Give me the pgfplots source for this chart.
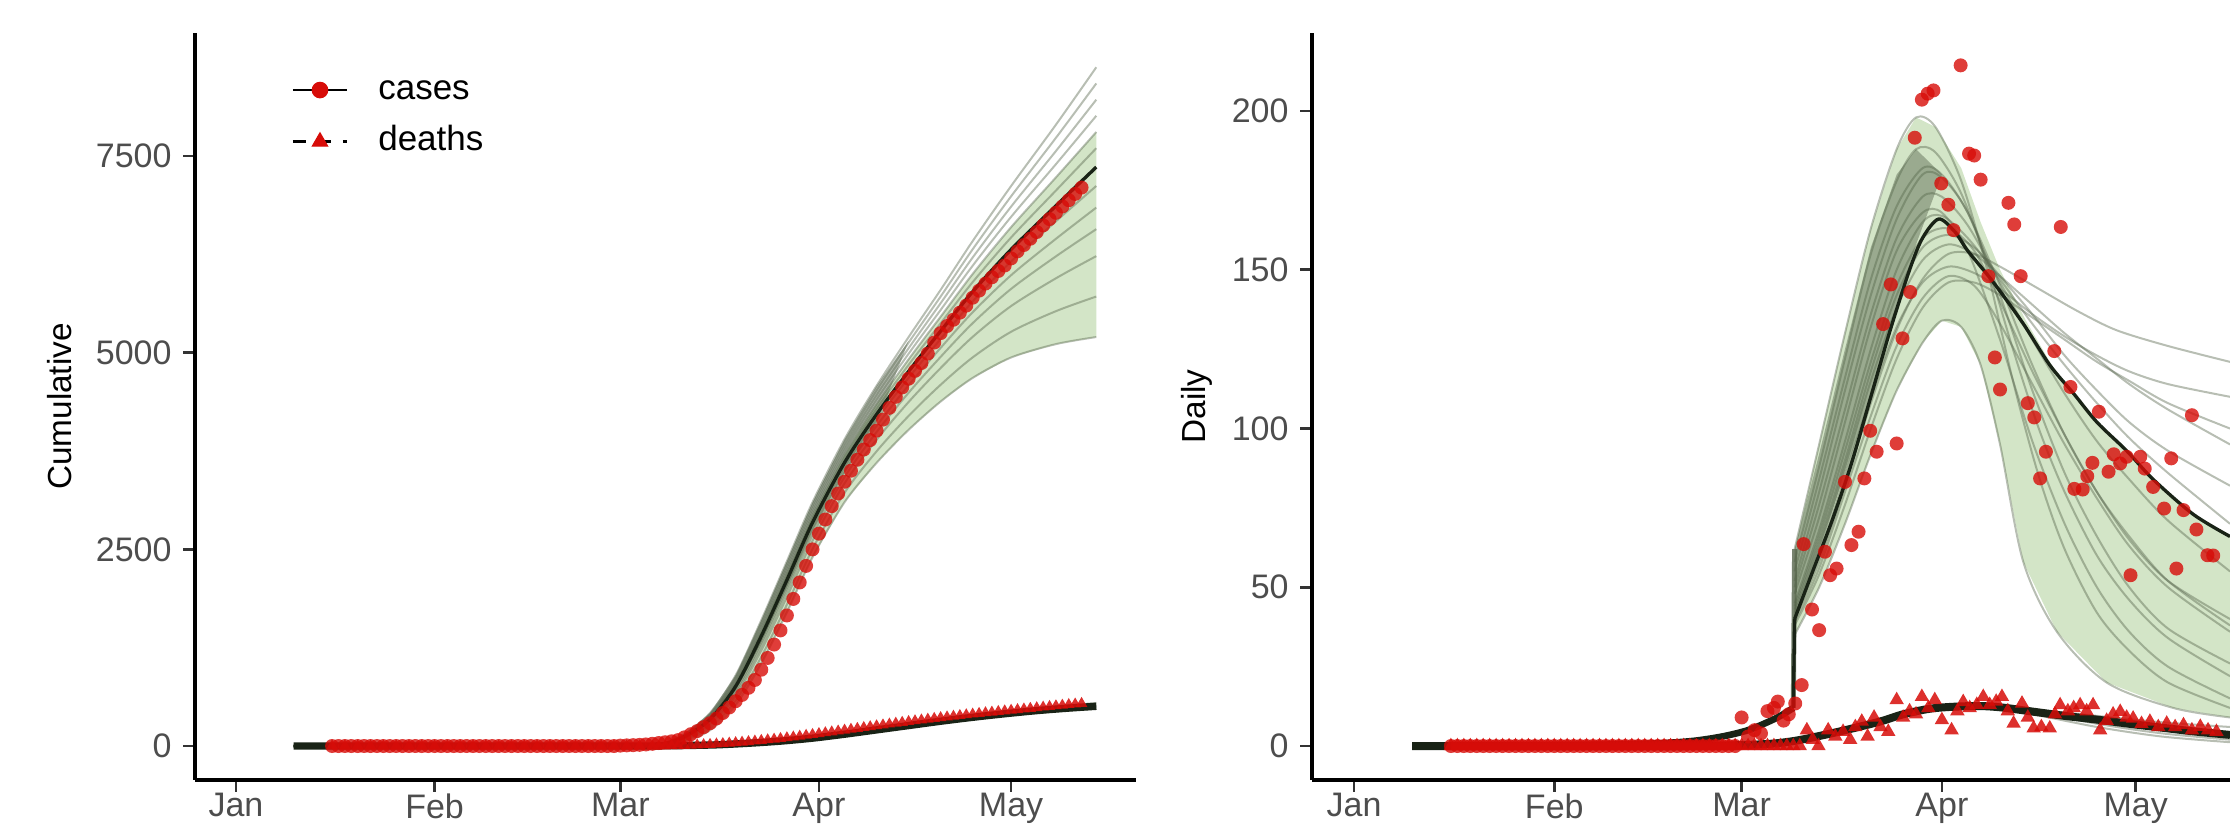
\documentclass[border=0pt]{standalone}
\usepackage{fontspec}
\setmainfont{Liberation Sans}
\usepackage{pgfplots}
\pgfplotsset{compat=1.18}

\definecolor{ensc}{RGB}{85,100,75}
\definecolor{greenfill}{RGB}{200,222,185}
\definecolor{medc}{RGB}{25,35,22}
\definecolor{ptred}{RGB}{215,12,8}
\definecolor{tickgray}{RGB}{77,77,77}

\pgfplotsset{
  panel/.style={
    scale only axis, height=224.1pt,
    axis lines*=left,
    axis line style={line width=1pt, black},
    tick align=outside, major tick length=3.5pt,
    tick style={line width=0.8pt, black!80},
    xtick={0,31,60,91,121}, xticklabels={Jan,Feb,Mar,Apr,May},
    ticklabel style={font=\fontsize{10.2}{12}\selectfont, text=tickgray},
    xticklabel style={yshift=3pt},
    label style={font=\fontsize{10}{12}\selectfont},
  },
  ens/.style={smooth, no markers, draw=ensc, draw opacity=0.42, line width=0.6pt},
  med/.style={smooth, no markers, draw=medc, line width=1pt},
  band/.style={draw=none, fill=greenfill, fill opacity=0.8, no markers},
  core/.style={draw=none, fill=ensc, fill opacity=0.45, no markers},
  dots/.style={only marks, mark=*, color=ptred, mark size=2.1pt, mark options={fill opacity=0.8, draw opacity=0}},
  tris/.style={only marks, mark=triangle*, color=ptred, mark size=2.5pt, mark options={fill opacity=0.85, draw opacity=0}},
}

\begin{document}
\begin{tikzpicture}
\path[use as bounding box] (0,0) rectangle (669pt,248.4pt);

% ---------------- cumulative ----------------
\begin{axis}[panel, at={(58.5pt,14.4pt)}, anchor=south west, width=282.3pt,
  xmin=-6.4, xmax=140.5, ymin=-432, ymax=9066,
  ytick={0,2500,5000,7500}, yticklabels={0,2500,5000,7500},
  ylabel={Cumulative},
  ylabel style={at={(axis description cs:-0.1435,0.5)}, anchor=center},
  legend style={at={(axis description cs:0.102,0.889)}, anchor=west,
    draw=none, fill=none, inner sep=0pt, row sep=6pt, column sep=9pt,
    font=\fontsize{10.5}{12}\selectfont,
    nodes={inner sep=0pt, text height=7.5pt, text depth=2pt}},
  legend cell align=left]

\addlegendimage{legend image code/.code={
  \draw[black, line width=0.8pt] (0pt,0pt) -- (16.2pt,0pt);
  \fill[ptred] (8.1pt,0pt) circle (2.3pt);}}
\addlegendimage{legend image code/.code={
  \draw[black, line width=0.8pt, dash pattern=on 4pt off 3.5pt] (0pt,0pt) -- (16.2pt,0pt);
  \fill[ptred] (8.1pt,2.6pt) -- (5.85pt,-1.3pt) -- (10.35pt,-1.3pt) -- cycle;}}

% green band (inner part of the ensemble)
\addplot[band] coordinates {(64,3) (67,34) (70,128) (74,367) (78,809) (82,1468) (86,2194) (90,2932) (95,3708) (100,4345) (105,4917) (110,5459) (115,6002) (121,6597) (128,7230) (134.3,7807)
 (134.3,5200) (128,5110) (121,4940) (115,4680) (110,4380) (105,4020) (100,3600) (95,3100) (90,2400) (86,1700) (82,1050) (78,520) (74,200) (70,60) (67,15) (64,3)} -- cycle;
% dense core during the rise
\addplot[core] coordinates {(66,20) (70,150) (74,420) (78,900) (82,1600) (86,2350) (90,3100) (95,3900) (100,4580) (105,5150)
 (100,4100) (95,3480) (90,2736) (86,2012) (82,1314) (78,702) (74,306) (70,103) (66,20)} -- cycle;
% deaths band
\addplot[draw=none, fill=ensc, fill opacity=0.45, no markers] coordinates {(60,0) (70,9) (80,45) (90,120) (100,235) (110,350) (120,450) (130,530) (134.3,560)
 (134.3,462) (130,440) (120,375) (110,285) (100,180) (90,85) (80,28) (70,4) (60,0)} -- cycle;

% ensemble of fitted trajectories
\addplot[ens] coordinates {(9,0) (60,0) (64,3) (67,15) (70,60) (74,200) (78,520) (82,1050) (86,1700) (90,2400) (95,3100) (100,3600) (105,4020) (110,4380) (115,4680) (121,4940) (128,5110) (134.3,5200)};
\addplot[ens] coordinates {(9,0) (60,0) (64,4) (67,19) (70,74) (74,233) (78,577) (82,1133) (86,1798) (90,2505) (95,3220) (100,3747) (105,4197) (110,4593) (115,4941) (121,5267) (128,5529) (134.3,5715)};
\addplot[ens] coordinates {(9,0) (60,0) (64,5) (67,23) (70,87) (74,266) (78,634) (82,1215) (86,1895) (90,2610) (95,3340) (100,3894) (105,4374) (110,4806) (115,5202) (121,5594) (128,5947) (134.3,6229)};
\addplot[ens] coordinates {(9,0) (60,0) (64,5) (67,25) (70,96) (74,288) (78,672) (82,1270) (86,1960) (90,2680) (95,3420) (100,3992) (105,4492) (110,4948) (115,5376) (121,5812) (128,6226) (134.3,6572)};
\addplot[ens] coordinates {(9,0) (60,0) (64,5) (67,27) (70,103) (74,306) (78,702) (82,1314) (86,2012) (90,2736) (95,3484) (100,4070) (105,4586) (110,5062) (115,5515) (121,5986) (128,6449) (134.3,6846)};
\addplot[ens] coordinates {(9,0) (60,0) (64,6) (67,29) (70,110) (74,323) (78,733) (82,1358) (86,2064) (90,2792) (95,3548) (100,4149) (105,4681) (110,5175) (115,5654) (121,6161) (128,6672) (134.3,7121)};
\addplot[ens] coordinates {(9,0) (60,0) (64,7) (67,33) (70,123) (74,354) (78,786) (82,1435) (86,2155) (90,2890) (95,3660) (100,4286) (105,4846) (110,5374) (115,5898) (121,6466) (128,7063) (134.3,7601)};
\addplot[ens] coordinates {(9,0) (60,0) (64,7) (67,34) (70,128) (74,367) (78,809) (82,1468) (86,2194) (90,2932) (95,3708) (100,4345) (105,4917) (110,5459) (115,6002) (121,6597) (128,7230) (134.3,7807)};
\addplot[ens] coordinates {(9,0) (60,0) (64,7) (67,36) (70,134) (74,380) (78,832) (82,1501) (86,2233) (90,2974) (95,3756) (100,4404) (105,4988) (110,5544) (115,6107) (121,6728) (128,7398) (134.3,8013)};
\addplot[ens] coordinates {(9,0) (60,0) (64,7) (67,37) (70,139) (74,394) (78,854) (82,1534) (86,2272) (90,3016) (95,3804) (100,4462) (105,5058) (110,5630) (115,6211) (121,6858) (128,7565) (134.3,8218)};
\addplot[ens] coordinates {(9,0) (60,0) (64,8) (67,39) (70,145) (74,407) (78,877) (82,1567) (86,2311) (90,3058) (95,3852) (100,4521) (105,5129) (110,5715) (115,6316) (121,6989) (128,7733) (134.3,8424)};
\addplot[ens] coordinates {(9,0) (60,0) (64,8) (67,40) (70,150) (74,420) (78,900) (82,1600) (86,2350) (90,3100) (95,3900) (100,4580) (105,5200) (110,5800) (115,6420) (121,7120) (128,7900) (134.3,8630)};

% medians
\addplot[med] coordinates {(9,0) (60,0) (64,6) (67,31) (70,117) (74,339) (78,759) (82,1397) (86,2110) (90,2841) (95,3604) (100,4217) (105,4763) (110,5275) (115,5776) (121,6313) (128,6868) (134.3,7361)};
\addplot[med, line width=2.2pt] coordinates {(9,0) (60,0) (66,2) (70,6) (75,15) (80,35) (85,62) (90,100) (95,150) (100,205) (105,260) (110,315) (115,365) (120,410) (125,450) (130,482) (134.3,505)};

% observed cumulative cases
\addplot[dots] coordinates {
(15,0) (16,0) (17,0) (18,0) (19,0) (20,0) (21,0) (22,0) (23,0) (24,0) (25,0) (26,0) (27,0) (28,0) (29,0)
(30,0) (31,0) (32,0) (33,0) (34,0) (35,0) (36,0) (37,0) (38,0) (39,0) (40,0) (41,0) (42,0) (43,0) (44,0)
(45,0) (46,0) (47,0) (48,0) (49,0) (50,0) (51,0) (52,0) (53,0) (54,0) (55,0) (56,0) (57,0) (58,0) (59,0)
(60,5) (61,8) (62,11) (63,15) (64,20) (65,28) (66,38) (67,48) (68,60) (69,75) (70,110) (71,150) (72,190)
(73,240) (74,290) (75,350) (76,420) (77,490) (78,570) (79,650) (80,740) (81,840) (82,970) (83,1120)
(84,1290) (85,1470) (86,1660) (87,1870) (88,2080) (89,2290) (90,2500) (91,2700) (92,2880) (93,3050)
(94,3210) (95,3360) (96,3500) (97,3640) (98,3770) (99,3890) (100,4010) (101,4150) (102,4300) (103,4440)
(104,4560) (105,4670) (106,4770) (107,4870) (108,4990) (109,5130) (110,5250) (111,5340) (112,5420)
(113,5510) (114,5600) (115,5700) (116,5790) (117,5880) (118,5960) (119,6040) (120,6110) (121,6200)
(122,6290) (123,6370) (124,6450) (125,6535) (126,6620) (127,6700) (128,6780) (129,6860) (130,6940)
(131,7020) (132,7100)};
% observed cumulative deaths
\addplot[tris, mark size=2pt] coordinates {
(15,0) (17,0) (19,0) (21,0) (23,0) (25,0) (27,0) (29,0) (31,0) (33,0) (35,0) (37,0) (39,0) (41,0) (43,0)
(45,0) (47,0) (49,0) (51,0) (53,0) (55,0) (57,0) (59,0) (61,0) (63,0) (65,0) (66,0) (67,0)
(68,2) (69,4) (70,6) (71,9) (72,12) (73,16) (74,20) (75,25) (76,30) (77,36) (78,42) (79,48) (80,55)
(81,62) (82,70) (83,78) (84,86) (85,95) (86,104) (87,114) (88,124) (89,135) (90,146) (91,157) (92,168)
(93,179) (94,190) (95,201) (96,212) (97,223) (98,234) (99,245) (100,256) (101,267) (102,278) (103,289)
(104,300) (105,310) (106,320) (107,330) (108,340) (109,350) (110,360) (111,369) (112,378) (113,387)
(114,396) (115,405) (116,414) (117,422) (118,430) (119,438) (120,446) (121,454) (122,462) (123,470)
(124,478) (125,486) (126,494) (127,502) (128,510) (129,518) (130,526) (131,533) (132,540)};

\legend{cases,deaths}
\end{axis}

% ---------------- daily ----------------
\begin{axis}[panel, at={(393.6pt,14.4pt)}, anchor=south west, width=275.4pt,
  xmin=-6.5, xmax=135.6, ymin=-10.7, ymax=224.6,
  ytick={0,50,100,150,200}, yticklabels={0,50,100,150,200},
  ylabel={Daily},
  ylabel style={at={(axis description cs:-0.1253,0.5)}, anchor=center}]

% green band of the trajectories
\addplot[band] coordinates {(68.2,62) (72,95) (76,130) (80,163) (84,188) (87,198) (90,195) (94,182) (97,165) (100,150) (104,134) (108,120) (111.4,111) (115,102) (119.6,93) (123.7,84) (129.9,73) (135.6,66)
 (135.6,9) (126.8,12) (116.5,20) (108.8,36) (103.6,58) (100,95) (97,120) (94,132) (91,134) (88,127) (84,112) (80,92) (76,70) (72,50) (68.2,35)} -- cycle;
% dense core during the rise
\addplot[core] coordinates {(68.2,62) (72,92) (76,125) (80,157) (84,180) (87,188) (91,180)
 (87,158) (84,138) (80,110) (76,86) (72,62) (68.2,40)} -- cycle;

% trajectories
\addplot[medc, line width=2pt, smooth, no markers] coordinates {(9,0) (30,0.2) (45,0.7) (52,1.5) (57,3) (61,5) (64,7.5) (66,9.5) (68,12)};
\addplot[ensc, line width=1.5pt, opacity=0.8, no markers] coordinates {(68,12) (68.2,62)};
\addplot[ens] coordinates {(68.2,62) (72,95) (76,130) (80,163) (84,188) (87,198) (90,195) (94,178) (98,150) (102,115) (106,85) (110,62) (115,42) (120,30) (126,20) (135.6,12)};
\addplot[ens] coordinates {(68.2,58) (72,88) (76,122) (80,155) (84,178) (87,188) (90,187) (94,174) (98,152) (102,125) (106,100) (110,80) (115,60) (120,46) (126,34) (135.6,22)};
\addplot[ens] coordinates {(68.2,55) (72,84) (76,116) (80,147) (84,170) (88,182) (91,180) (95,168) (100,145) (105,120) (110,98) (115,80) (120,66) (126,52) (135.6,38)};
\addplot[ens] coordinates {(68.2,52) (72,80) (76,112) (80,142) (84,166) (88,180) (91,179) (95,168) (100,142) (105,112) (110,86) (115,66) (120,50) (126,37) (135.6,26)};
\addplot[ens] coordinates {(68.2,50) (72,76) (76,106) (80,136) (84,160) (88,173) (91,173) (95,164) (100,146) (105,128) (110,111) (115,96) (120,84) (126,71) (135.6,55)};
\addplot[ens] coordinates {(68.2,48) (72,72) (76,102) (80,132) (84,156) (88,168) (91,168) (95,156) (100,128) (105,96) (110,70) (115,50) (120,36) (126,25) (135.6,15)};
\addplot[ens] coordinates {(68.2,45) (72,68) (76,96) (80,125) (84,150) (88,165) (91,167) (95,160) (100,147) (105,133) (110,120) (115,108) (120,97) (126,86) (135.6,70)};
\addplot[ens] coordinates {(68.2,44) (72,66) (76,93) (80,121) (84,145) (88,160) (92,163) (96,156) (100,140) (105,118) (110,98) (115,80) (120,65) (126,52) (135.6,40)};
\addplot[ens] coordinates {(68.2,43) (72,64) (76,90) (80,118) (84,142) (88,157) (92,161) (96,157) (100,148) (105,136) (110,123) (115,112) (120,102) (126,93) (135.6,82)};
\addplot[ens] coordinates {(68.2,42) (72,62) (76,88) (80,115) (84,138) (88,153) (92,158) (96,155) (100,148) (105,139) (110,130) (115,122) (120,114) (126,106) (135.6,95)};
\addplot[ens] coordinates {(68.2,41) (72,60) (76,85) (80,110) (84,132) (88,146) (92,151) (96,149) (100,144) (105,136) (110,129) (115,123) (120,118) (126,114) (135.6,110)};
\addplot[ens] coordinates {(68.2,40) (72,58) (76,82) (80,108) (84,131) (88,147) (92,155) (96,155) (100,151) (106,144) (112,137) (118,131) (126,126) (135.6,121)};
\addplot[ens] coordinates {(68.2,39) (72,56) (76,80) (80,104) (84,126) (88,141) (92,148) (96,145) (100,133) (105,114) (110,95) (115,78) (120,63) (126,50) (135.6,36)};
\addplot[ens] coordinates {(68.2,38) (72,54) (76,76) (80,100) (84,122) (88,138) (92,146) (96,146) (100,142) (105,135) (110,128) (115,121) (120,115) (126,108) (135.6,100)};
\addplot[ens] coordinates {(68.2,35) (72,50) (76,70) (80,92) (84,112) (88,127) (91,134) (94,132) (97,120) (100,95) (103.6,58) (108.8,36) (116.5,20) (126.8,12) (135.6,9)};
% deaths trajectories
\addplot[ens] coordinates {(60,0.3) (70,2.5) (80,7.5) (90,12.5) (96,13) (105,11) (115,7) (125,4) (135.6,2)};
\addplot[ens] coordinates {(60,0.3) (70,2) (80,7) (90,11.5) (96,12.5) (105,11.5) (115,9.5) (125,7.5) (135.6,6)};
\addplot[ens] coordinates {(60,0.3) (70,2.2) (80,7.3) (90,12) (96,12.8) (105,10) (115,6) (125,3) (135.6,1.2)};

% medians
\addplot[medc, line width=1pt, no markers] coordinates {(68,12) (68.2,40)};
\addplot[med] coordinates {(68.2,40) (71,55) (74,71) (77,89) (80,110) (83,131) (86,150) (88,160) (90.5,166) (93,162) (95,156) (99,146) (103.6,133) (107.7,120) (111.4,111) (115,102) (119.6,93) (123.7,84) (129.9,73) (135.6,66)};
\addplot[med, line width=2.4pt] coordinates {(9,0) (50,0) (60,0.3) (65,0.8) (69,1.9) (75,4.5) (81.4,7.7) (85,10) (89.7,11.9) (95.9,12.6) (100,12.2) (105.2,10.8) (110,9.5) (115.5,8.2) (120,7) (125.8,5.6) (130,4.6) (135.6,3.5)};

% observed daily cases
\addplot[dots] coordinates {
(15,0) (16,0) (17,0) (18,0) (19,0) (20,0) (21,0) (22,0) (23,0) (24,0) (25,0) (26,0) (27,0) (28,0) (29,0)
(30,0) (31,0) (32,0) (33,0) (34,0) (35,0) (36,0) (37,0) (38,0) (39,0) (40,0) (41,0) (42,0) (43,0) (44,0)
(45,0) (46,0) (47,0) (48,0) (49,0) (50,0) (51,0) (52,0) (53,0) (54,0) (55,0) (56,0) (57,0) (58,0) (59,0)
(60,9) (61,3) (62,5) (63,4) (64,11) (65,12) (65.6,14) (66.5,8) (67.3,10) (68.3,13.4) (69.3,19.2)
(69.6,63.6) (70.9,43) (72.0,36.5) (72.9,61.2) (73.7,53.8) (74.7,55.9) (76.0,83.2) (77.0,63.3) (78.1,67.5)
(79.0,84.3) (79.9,99.3) (80.9,92.7) (81.9,132.9) (83.1,145.4) (84.0,95.3) (84.9,128.4) (86.1,143)
(86.8,191.6) (87.9,203.6) (88.8,205.5) (89.7,206.5) (90.9,177.2) (92.0,170.5) (92.8,162.5) (93.9,214.4)
(95.2,186.6) (96.0,186) (97.0,178.4) (98.2,148) (99.2,122.4) (100.0,112.3) (101.3,171.1) (102.2,164.3)
(103.2,148) (104.3,108) (105.3,103.5) (106.2,84.3) (107.1,92.7) (108.4,124.4) (109.4,163.5) (110.9,113.1)
(111.5,81) (112.8,80.8) (113.5,85) (114.3,89.2) (115.3,105.3) (116.8,86.4) (117.6,91.9) (118.6,89)
(119.6,91.1) (120.2,53.8) (121.7,91.1) (122.4,87.4) (123.7,81.6) (125.4,74.8) (126.5,90.6) (127.3,55.9)
(128.4,74.3) (129.7,104.2) (130.4,68.2) (132.1,60.1) (133.0,60)};
% observed daily deaths
\addplot[tris] coordinates {
(15,0) (16,0) (17,0) (18,0) (19,0) (20,0) (21,0) (22,0) (23,0) (24,0) (25,0) (26,0) (27,0) (28,0) (29,0)
(30,0) (31,0) (32,0) (33,0) (34,0) (35,0) (36,0) (37,0) (38,0) (39,0) (40,0) (41,0) (42,0) (43,0) (44,0)
(45,0) (46,0) (47,0) (48,0) (49,0) (50,0) (51,0) (52,0) (53,0) (54,0) (55,0) (56,0) (57,0) (58,0) (59,0)
(60,0) (61,0) (62,0) (63,0) (64,0) (65,0) (66,0) (67,0) (68,0) (69,0)
(70.1,5) (71,2) (71.9,0) (73.4,5) (74.5,3) (75.7,4.5) (76.8,2) (77.6,6) (78.6,7.7) (79.5,3) (80.5,9)
(81.5,6) (82.7,4.5) (84.0,14.5) (85,9) (86,11) (87,10) (87.9,15.5) (88.9,12) (89.9,14.5) (91.0,8.2)
(92.5,5) (93.4,11) (94.3,13.9) (95.3,12) (96.4,13) (97.4,15.5) (98.4,13) (99.4,14) (100.3,15.5) (101.2,11)
(102.1,7.1) (103.4,13.4) (104.3,9) (105.2,5.6) (106.4,6) (107.7,5.6) (108.5,10) (109.3,12.9) (110.5,11)
(111.4,12) (112.4,12.9) (113.4,11) (114.4,12.9) (115.5,5) (116.5,8) (117.5,10) (118.6,10.8) (119.6,9)
(120.6,8.7) (121.9,7) (123.2,7.7) (124.5,6) (125.8,7.1) (127.1,6) (128.4,6.6) (129.7,5) (131.0,6.1)
(132.2,5) (133.5,4.5)};
\end{axis}
\end{tikzpicture}
\end{document}
